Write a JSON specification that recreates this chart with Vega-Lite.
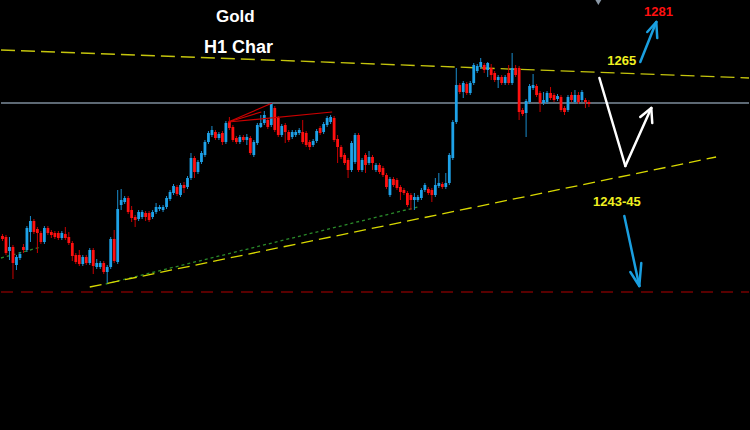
{
"$schema": "https://vega.github.io/schema/vega-lite/v6.json",
"width": 750, "height": 430,
"autosize": {"type": "fit", "contains": "padding"},
"padding": 0,
"background": "#000000",
"config": {"view": {"stroke": null}, "axis": {"disable": true}},
"datasets": {
"candles": [
{"i":1,"o":1232.8,"c":1232.2,"h":1233.2,"l":1231.8},
{"i":2,"o":1232.6,"c":1229.4,"h":1233.0,"l":1229.0},
{"i":3,"o":1229.8,"c":1230.6,"h":1232.6,"l":1228.0},
{"i":4,"o":1230.6,"c":1227.4,"h":1231.0,"l":1224.2},
{"i":5,"o":1227.0,"c":1228.6,"h":1229.0,"l":1226.0},
{"i":6,"o":1228.4,"c":1229.2,"h":1229.6,"l":1228.0},
{"i":7,"o":1230.6,"c":1230.0,"h":1231.2,"l":1229.4},
{"i":8,"o":1230.0,"c":1234.4,"h":1234.8,"l":1229.6},
{"i":9,"o":1233.6,"c":1235.8,"h":1236.8,"l":1231.6},
{"i":10,"o":1235.8,"c":1233.6,"h":1236.2,"l":1233.2},
{"i":11,"o":1234.2,"c":1233.4,"h":1234.6,"l":1229.4},
{"i":12,"o":1233.4,"c":1231.6,"h":1233.8,"l":1231.2},
{"i":13,"o":1231.6,"c":1234.4,"h":1234.8,"l":1231.2},
{"i":14,"o":1234.4,"c":1233.4,"h":1234.8,"l":1233.0},
{"i":15,"o":1233.6,"c":1233.0,"h":1234.0,"l":1232.4},
{"i":16,"o":1233.4,"c":1232.6,"h":1233.8,"l":1232.2},
{"i":17,"o":1233.4,"c":1232.4,"h":1233.8,"l":1232.0},
{"i":18,"o":1232.4,"c":1233.4,"h":1233.8,"l":1232.0},
{"i":19,"o":1233.2,"c":1232.4,"h":1234.6,"l":1232.0},
{"i":20,"o":1232.6,"c":1231.4,"h":1233.6,"l":1231.0},
{"i":21,"o":1231.4,"c":1228.8,"h":1231.8,"l":1227.8},
{"i":22,"o":1229.0,"c":1227.6,"h":1229.4,"l":1227.2},
{"i":23,"o":1229.0,"c":1227.2,"h":1230.0,"l":1226.8},
{"i":24,"o":1227.2,"c":1228.6,"h":1229.0,"l":1226.8},
{"i":25,"o":1228.6,"c":1227.4,"h":1229.0,"l":1227.0},
{"i":26,"o":1227.4,"c":1230.0,"h":1230.4,"l":1227.0},
{"i":27,"o":1230.0,"c":1226.8,"h":1230.4,"l":1225.2},
{"i":28,"o":1226.6,"c":1227.4,"h":1228.2,"l":1226.2},
{"i":29,"o":1226.6,"c":1227.4,"h":1227.8,"l":1226.2},
{"i":30,"o":1227.4,"c":1225.6,"h":1227.8,"l":1225.2},
{"i":31,"o":1225.6,"c":1226.6,"h":1227.0,"l":1223.4},
{"i":32,"o":1226.6,"c":1232.2,"h":1232.6,"l":1226.2},
{"i":33,"o":1232.2,"c":1227.8,"h":1234.0,"l":1227.4},
{"i":34,"o":1227.6,"c":1238.2,"h":1242.0,"l":1227.2},
{"i":35,"o":1239.0,"c":1240.0,"h":1242.2,"l":1238.0},
{"i":36,"o":1239.6,"c":1240.4,"h":1240.8,"l":1239.2},
{"i":37,"o":1240.4,"c":1237.6,"h":1240.8,"l":1237.2},
{"i":38,"o":1238.0,"c":1236.4,"h":1238.8,"l":1235.6},
{"i":39,"o":1236.6,"c":1236.0,"h":1237.0,"l":1234.6},
{"i":40,"o":1236.2,"c":1237.6,"h":1238.0,"l":1235.8},
{"i":41,"o":1236.6,"c":1237.6,"h":1238.0,"l":1236.2},
{"i":42,"o":1237.4,"c":1236.6,"h":1237.8,"l":1235.8},
{"i":43,"o":1237.4,"c":1236.0,"h":1237.8,"l":1235.6},
{"i":44,"o":1236.6,"c":1237.6,"h":1238.0,"l":1236.2},
{"i":45,"o":1237.6,"c":1238.6,"h":1239.4,"l":1237.2},
{"i":46,"o":1238.2,"c":1238.6,"h":1239.0,"l":1237.8},
{"i":47,"o":1238.0,"c":1238.6,"h":1239.0,"l":1237.6},
{"i":48,"o":1238.6,"c":1240.4,"h":1240.8,"l":1238.2},
{"i":49,"o":1240.2,"c":1241.6,"h":1242.0,"l":1239.8},
{"i":50,"o":1241.4,"c":1242.8,"h":1243.2,"l":1241.0},
{"i":51,"o":1242.6,"c":1241.2,"h":1243.0,"l":1240.8},
{"i":52,"o":1241.0,"c":1243.0,"h":1243.4,"l":1240.6},
{"i":53,"o":1243.0,"c":1242.4,"h":1243.6,"l":1241.4},
{"i":54,"o":1242.6,"c":1244.4,"h":1244.8,"l":1242.2},
{"i":55,"o":1244.4,"c":1248.4,"h":1249.4,"l":1244.0},
{"i":56,"o":1248.4,"c":1245.6,"h":1248.8,"l":1244.4},
{"i":57,"o":1245.6,"c":1247.6,"h":1248.0,"l":1245.2},
{"i":58,"o":1247.6,"c":1249.4,"h":1249.8,"l":1247.2},
{"i":59,"o":1249.0,"c":1251.6,"h":1252.0,"l":1248.6},
{"i":60,"o":1251.6,"c":1253.4,"h":1253.8,"l":1251.2},
{"i":61,"o":1253.0,"c":1254.0,"h":1254.8,"l":1252.6},
{"i":62,"o":1253.6,"c":1252.4,"h":1254.0,"l":1252.0},
{"i":63,"o":1252.4,"c":1253.2,"h":1253.6,"l":1252.0},
{"i":64,"o":1253.4,"c":1251.6,"h":1253.8,"l":1251.0},
{"i":65,"o":1251.6,"c":1255.4,"h":1255.8,"l":1251.2},
{"i":66,"o":1255.6,"c":1254.4,"h":1256.6,"l":1254.0},
{"i":67,"o":1254.6,"c":1252.0,"h":1255.0,"l":1251.6},
{"i":68,"o":1252.4,"c":1251.6,"h":1252.8,"l":1251.2},
{"i":69,"o":1251.6,"c":1252.6,"h":1253.0,"l":1251.2},
{"i":70,"o":1252.6,"c":1252.0,"h":1253.0,"l":1251.6},
{"i":71,"o":1252.0,"c":1252.6,"h":1253.2,"l":1251.0},
{"i":72,"o":1252.4,"c":1249.4,"h":1252.8,"l":1249.0},
{"i":73,"o":1249.0,"c":1251.6,"h":1252.0,"l":1248.6},
{"i":74,"o":1251.4,"c":1255.0,"h":1255.4,"l":1251.0},
{"i":75,"o":1254.6,"c":1255.4,"h":1257.0,"l":1254.4},
{"i":76,"o":1255.4,"c":1257.0,"h":1257.8,"l":1255.0},
{"i":77,"o":1256.0,"c":1254.6,"h":1256.4,"l":1254.2},
{"i":78,"o":1255.0,"c":1259.4,"h":1259.6,"l":1254.6},
{"i":79,"o":1258.4,"c":1254.0,"h":1258.8,"l":1253.6},
{"i":80,"o":1256.4,"c":1253.0,"h":1256.8,"l":1252.6},
{"i":81,"o":1253.0,"c":1254.8,"h":1255.2,"l":1252.6},
{"i":82,"o":1255.0,"c":1253.6,"h":1255.4,"l":1251.4},
{"i":83,"o":1253.6,"c":1252.0,"h":1254.0,"l":1251.6},
{"i":84,"o":1252.6,"c":1253.6,"h":1254.0,"l":1252.2},
{"i":85,"o":1253.0,"c":1253.6,"h":1254.0,"l":1252.6},
{"i":86,"o":1253.4,"c":1254.0,"h":1254.4,"l":1253.0},
{"i":87,"o":1253.6,"c":1251.6,"h":1256.0,"l":1251.2},
{"i":88,"o":1253.4,"c":1251.0,"h":1253.8,"l":1250.6},
{"i":89,"o":1251.6,"c":1250.6,"h":1252.0,"l":1250.0},
{"i":90,"o":1251.0,"c":1251.8,"h":1252.2,"l":1250.6},
{"i":91,"o":1251.8,"c":1253.8,"h":1254.2,"l":1251.4},
{"i":92,"o":1254.4,"c":1253.4,"h":1254.8,"l":1253.0},
{"i":93,"o":1253.6,"c":1255.2,"h":1255.6,"l":1253.2},
{"i":94,"o":1255.0,"c":1256.4,"h":1256.8,"l":1254.6},
{"i":95,"o":1255.6,"c":1256.6,"h":1257.0,"l":1255.2},
{"i":96,"o":1256.4,"c":1252.0,"h":1256.8,"l":1251.6},
{"i":97,"o":1252.2,"c":1250.6,"h":1253.0,"l":1247.4},
{"i":98,"o":1250.6,"c":1248.6,"h":1251.0,"l":1248.2},
{"i":99,"o":1249.0,"c":1247.4,"h":1249.4,"l":1247.0},
{"i":100,"o":1248.0,"c":1246.0,"h":1248.4,"l":1244.4},
{"i":101,"o":1246.0,"c":1251.4,"h":1251.8,"l":1245.6},
{"i":102,"o":1247.6,"c":1253.0,"h":1253.4,"l":1247.2},
{"i":103,"o":1253.0,"c":1246.0,"h":1253.4,"l":1245.6},
{"i":104,"o":1246.0,"c":1248.0,"h":1248.4,"l":1245.6},
{"i":105,"o":1249.0,"c":1247.0,"h":1249.4,"l":1245.4},
{"i":106,"o":1247.4,"c":1248.6,"h":1249.8,"l":1247.0},
{"i":107,"o":1248.6,"c":1247.4,"h":1249.0,"l":1246.0},
{"i":108,"o":1246.0,"c":1247.0,"h":1247.4,"l":1245.6},
{"i":109,"o":1247.0,"c":1245.6,"h":1247.4,"l":1245.2},
{"i":110,"o":1246.4,"c":1245.0,"h":1246.8,"l":1244.6},
{"i":111,"o":1245.0,"c":1242.6,"h":1245.4,"l":1242.2},
{"i":112,"o":1241.0,"c":1244.2,"h":1244.6,"l":1240.6},
{"i":113,"o":1244.2,"c":1243.0,"h":1244.6,"l":1242.6},
{"i":114,"o":1244.0,"c":1242.4,"h":1244.4,"l":1242.0},
{"i":115,"o":1242.6,"c":1241.6,"h":1243.0,"l":1240.0},
{"i":116,"o":1242.0,"c":1241.4,"h":1242.4,"l":1241.0},
{"i":117,"o":1241.4,"c":1239.0,"h":1241.8,"l":1238.6},
{"i":118,"o":1241.0,"c":1240.0,"h":1241.4,"l":1238.0},
{"i":119,"o":1240.0,"c":1240.6,"h":1241.4,"l":1238.0},
{"i":120,"o":1240.0,"c":1240.6,"h":1241.0,"l":1239.6},
{"i":121,"o":1240.4,"c":1242.0,"h":1242.4,"l":1240.0},
{"i":122,"o":1242.0,"c":1243.0,"h":1243.4,"l":1241.6},
{"i":123,"o":1242.2,"c":1241.4,"h":1242.6,"l":1241.0},
{"i":124,"o":1242.0,"c":1241.0,"h":1242.4,"l":1239.6},
{"i":125,"o":1241.0,"c":1243.0,"h":1244.4,"l":1240.6},
{"i":126,"o":1242.8,"c":1243.4,"h":1245.4,"l":1242.4},
{"i":127,"o":1243.2,"c":1242.6,"h":1243.6,"l":1242.2},
{"i":128,"o":1242.6,"c":1243.4,"h":1245.4,"l":1242.2},
{"i":129,"o":1243.4,"c":1249.0,"h":1249.4,"l":1243.0},
{"i":130,"o":1248.4,"c":1255.6,"h":1256.0,"l":1248.0},
{"i":131,"o":1255.6,"c":1263.0,"h":1266.4,"l":1255.2},
{"i":132,"o":1263.0,"c":1261.6,"h":1263.4,"l":1261.2},
{"i":133,"o":1261.6,"c":1263.4,"h":1263.8,"l":1260.4},
{"i":134,"o":1263.2,"c":1261.4,"h":1263.6,"l":1261.0},
{"i":135,"o":1261.4,"c":1263.4,"h":1263.8,"l":1261.0},
{"i":136,"o":1263.4,"c":1267.0,"h":1267.4,"l":1263.0},
{"i":137,"o":1265.8,"c":1266.8,"h":1267.2,"l":1265.4},
{"i":138,"o":1266.6,"c":1267.6,"h":1268.4,"l":1266.2},
{"i":139,"o":1267.0,"c":1266.0,"h":1267.4,"l":1265.4},
{"i":140,"o":1266.0,"c":1267.4,"h":1267.6,"l":1264.6},
{"i":141,"o":1266.4,"c":1265.0,"h":1267.2,"l":1264.0},
{"i":142,"o":1265.4,"c":1264.0,"h":1265.8,"l":1263.6},
{"i":143,"o":1264.0,"c":1264.6,"h":1265.0,"l":1262.4},
{"i":144,"o":1264.6,"c":1263.4,"h":1265.0,"l":1263.0},
{"i":145,"o":1263.4,"c":1264.6,"h":1265.0,"l":1263.0},
{"i":146,"o":1265.4,"c":1263.4,"h":1267.0,"l":1263.0},
{"i":147,"o":1263.4,"c":1266.4,"h":1269.4,"l":1263.0},
{"i":148,"o":1266.4,"c":1265.0,"h":1267.0,"l":1264.6},
{"i":149,"o":1266.4,"c":1257.6,"h":1266.8,"l":1256.0},
{"i":150,"o":1258.0,"c":1257.2,"h":1258.4,"l":1256.8},
{"i":151,"o":1257.4,"c":1259.8,"h":1260.2,"l":1252.6},
{"i":152,"o":1259.6,"c":1262.8,"h":1263.2,"l":1259.2},
{"i":153,"o":1262.4,"c":1263.0,"h":1265.2,"l":1262.0},
{"i":154,"o":1262.8,"c":1261.0,"h":1263.2,"l":1260.6},
{"i":155,"o":1261.4,"c":1259.4,"h":1261.8,"l":1257.6},
{"i":156,"o":1259.4,"c":1260.0,"h":1261.6,"l":1259.0},
{"i":157,"o":1259.6,"c":1261.4,"h":1261.8,"l":1259.2},
{"i":158,"o":1261.4,"c":1260.4,"h":1262.6,"l":1260.0},
{"i":159,"o":1261.0,"c":1260.0,"h":1261.4,"l":1259.6},
{"i":160,"o":1260.2,"c":1260.8,"h":1261.2,"l":1259.8},
{"i":161,"o":1260.6,"c":1258.0,"h":1261.0,"l":1257.6},
{"i":162,"o":1258.4,"c":1257.6,"h":1258.8,"l":1257.0},
{"i":163,"o":1258.0,"c":1260.6,"h":1261.0,"l":1257.6},
{"i":164,"o":1261.0,"c":1260.0,"h":1261.6,"l":1259.6},
{"i":165,"o":1259.6,"c":1261.0,"h":1262.0,"l":1259.2},
{"i":166,"o":1261.0,"c":1259.6,"h":1261.6,"l":1259.2},
{"i":167,"o":1260.0,"c":1261.6,"h":1262.0,"l":1259.6},
{"i":168,"o":1260.0,"c":1259.6,"h":1260.4,"l":1258.4},
{"i":169,"o":1259.6,"c":1259.2,"h":1260.0,"l":1258.6}
],
"segs": [
{"k":"gray","x1":0.571,"y1":1259.4,"x2":214.857,"y2":1259.4},
{"k":"reddash","x1":0.571,"y1":1221.6,"x2":214.857,"y2":1221.6},
{"k":"green","x1":30.57,"y1":1223.2,"x2":120.0,"y2":1238.6},
{"k":"green","x1":0.571,"y1":1228.4,"x2":12.0,"y2":1230.6},
{"k":"res","x1":0.571,"y1":1270.0,"x2":214.857,"y2":1264.4},
{"k":"sup","x1":26.0,"y1":1222.6,"x2":205.43,"y2":1248.6},
{"k":"redthin","x1":65.71,"y1":1255.6,"x2":78.29,"y2":1259.4},
{"k":"redthin","x1":65.71,"y1":1255.6,"x2":75.14,"y2":1257.6},
{"k":"redthin","x1":65.71,"y1":1255.6,"x2":95.43,"y2":1257.6},
{"k":"white","x1":172.0,"y1":1264.4,"x2":179.43,"y2":1246.8},
{"k":"white","x1":179.43,"y1":1246.8,"x2":186.86,"y2":1258.4},
{"k":"white","x1":186.86,"y1":1258.4,"x2":183.71,"y2":1256.6},
{"k":"white","x1":186.86,"y1":1258.4,"x2":187.14,"y2":1255.4},
{"k":"blue","x1":183.71,"y1":1267.6,"x2":188.29,"y2":1275.6},
{"k":"blue","x1":188.29,"y1":1275.6,"x2":185.71,"y2":1273.6},
{"k":"blue","x1":188.29,"y1":1275.6,"x2":188.57,"y2":1272.4},
{"k":"blue","x1":179.14,"y1":1236.8,"x2":183.43,"y2":1222.8},
{"k":"blue","x1":183.43,"y1":1222.8,"x2":180.86,"y2":1225.6},
{"k":"blue","x1":183.43,"y1":1222.8,"x2":184.0,"y2":1227.4}
],
"labels": [
{"k":"title1","t":"Gold","x":67.7,"y":1276.6},
{"k":"title2","t":"H1 Char","x":68.6,"y":1270.4},
{"k":"yel","t":"1265","x":178.4,"y":1267.8},
{"k":"red","t":"1281","x":188.9,"y":1277.7},
{"k":"yel","t":"1243-45","x":177.0,"y":1239.6}
],
"marker": [{"x":171.7,"y":1279.8}]
},
"layer": [
{"data":{"name":"segs"},"transform":[{"filter":"datum.k==='reddash'"}],
 "mark":{"type":"rule","color":"#b00000","strokeWidth":1,"strokeDash":[12,8]},
 "encoding":{"x":{"field":"x1","type":"quantitative","scale":{"domain":[0.571,214.857],"nice":false,"zero":false}},"y":{"field":"y1","type":"quantitative","scale":{"domain":[1194,1280],"nice":false,"zero":false}},"x2":{"field":"x2"},"y2":{"field":"y2"}}},
{"data":{"name":"segs"},"transform":[{"filter":"datum.k==='gray'"}],
 "mark":{"type":"rule","color":"#7d8c9b","strokeWidth":1.3},
 "encoding":{"x":{"field":"x1","type":"quantitative"},"y":{"field":"y1","type":"quantitative"},"x2":{"field":"x2"},"y2":{"field":"y2"}}},
{"data":{"name":"segs"},"transform":[{"filter":"datum.k==='green'"}],
 "mark":{"type":"rule","color":"#2a8a2a","strokeWidth":1.3,"strokeDash":[3,3]},
 "encoding":{"x":{"field":"x1","type":"quantitative"},"y":{"field":"y1","type":"quantitative"},"x2":{"field":"x2"},"y2":{"field":"y2"}}},
{"data":{"name":"segs"},"transform":[{"filter":"datum.k==='res'"}],
 "mark":{"type":"rule","color":"#c4c40c","strokeWidth":1.3,"strokeDash":[14,6]},
 "encoding":{"x":{"field":"x1","type":"quantitative"},"y":{"field":"y1","type":"quantitative"},"x2":{"field":"x2"},"y2":{"field":"y2"}}},
{"data":{"name":"segs"},"transform":[{"filter":"datum.k==='sup'"}],
 "mark":{"type":"rule","color":"#d8d800","strokeWidth":1.3,"strokeDash":[12,6]},
 "encoding":{"x":{"field":"x1","type":"quantitative"},"y":{"field":"y1","type":"quantitative"},"x2":{"field":"x2"},"y2":{"field":"y2"}}},
{"data":{"name":"candles"},
 "mark":{"type":"rule","strokeWidth":1},
 "encoding":{"x":{"field":"i","type":"quantitative"},"y":{"field":"l","type":"quantitative"},"y2":{"field":"h"},
  "color":{"condition":{"test":"datum.c >= datum.o","value":"#1a8ccc"},"value":"#c80000"}}},
{"data":{"name":"candles"},
 "mark":{"type":"rule","strokeWidth":2.8},
 "encoding":{"x":{"field":"i","type":"quantitative"},"y":{"field":"o","type":"quantitative"},"y2":{"field":"c"},
  "color":{"condition":{"test":"datum.c >= datum.o","value":"#1ea2e8"},"value":"#ff1010"}}},
{"data":{"name":"segs"},"transform":[{"filter":"datum.k==='redthin'"}],
 "mark":{"type":"rule","color":"#cc0000","strokeWidth":1.2},
 "encoding":{"x":{"field":"x1","type":"quantitative"},"y":{"field":"y1","type":"quantitative"},"x2":{"field":"x2"},"y2":{"field":"y2"}}},
{"data":{"name":"segs"},"transform":[{"filter":"datum.k==='white'"}],
 "mark":{"type":"rule","color":"#ffffff","strokeWidth":2.5,"strokeCap":"round"},
 "encoding":{"x":{"field":"x1","type":"quantitative"},"y":{"field":"y1","type":"quantitative"},"x2":{"field":"x2"},"y2":{"field":"y2"}}},
{"data":{"name":"segs"},"transform":[{"filter":"datum.k==='blue'"}],
 "mark":{"type":"rule","color":"#1a9fe0","strokeWidth":2.5,"strokeCap":"round"},
 "encoding":{"x":{"field":"x1","type":"quantitative"},"y":{"field":"y1","type":"quantitative"},"x2":{"field":"x2"},"y2":{"field":"y2"}}},
{"data":{"name":"marker"},
 "mark":{"type":"point","shape":"triangle-down","filled":true,"color":"#8a98a6","size":90,"opacity":1,"clip":true},
 "encoding":{"x":{"field":"x","type":"quantitative"},"y":{"field":"y","type":"quantitative"}}},
{"data":{"name":"labels"},"transform":[{"filter":"datum.k==='title1'"}],
 "mark":{"type":"text","color":"#ffffff","font":"Liberation Sans","fontWeight":"bold","fontSize":17,"align":"center","baseline":"middle"},
 "encoding":{"x":{"field":"x","type":"quantitative"},"y":{"field":"y","type":"quantitative"},"text":{"field":"t"}}},
{"data":{"name":"labels"},"transform":[{"filter":"datum.k==='title2'"}],
 "mark":{"type":"text","color":"#ffffff","font":"Liberation Sans","fontWeight":"bold","fontSize":18,"align":"center","baseline":"middle"},
 "encoding":{"x":{"field":"x","type":"quantitative"},"y":{"field":"y","type":"quantitative"},"text":{"field":"t"}}},
{"data":{"name":"labels"},"transform":[{"filter":"datum.k==='yel'"}],
 "mark":{"type":"text","color":"#f0f020","font":"Liberation Sans","fontWeight":"bold","fontSize":13,"align":"center","baseline":"middle"},
 "encoding":{"x":{"field":"x","type":"quantitative"},"y":{"field":"y","type":"quantitative"},"text":{"field":"t"}}},
{"data":{"name":"labels"},"transform":[{"filter":"datum.k==='red'"}],
 "mark":{"type":"text","color":"#ff1010","font":"Liberation Sans","fontWeight":"bold","fontSize":13,"align":"center","baseline":"middle"},
 "encoding":{"x":{"field":"x","type":"quantitative"},"y":{"field":"y","type":"quantitative"},"text":{"field":"t"}}}
]
}
